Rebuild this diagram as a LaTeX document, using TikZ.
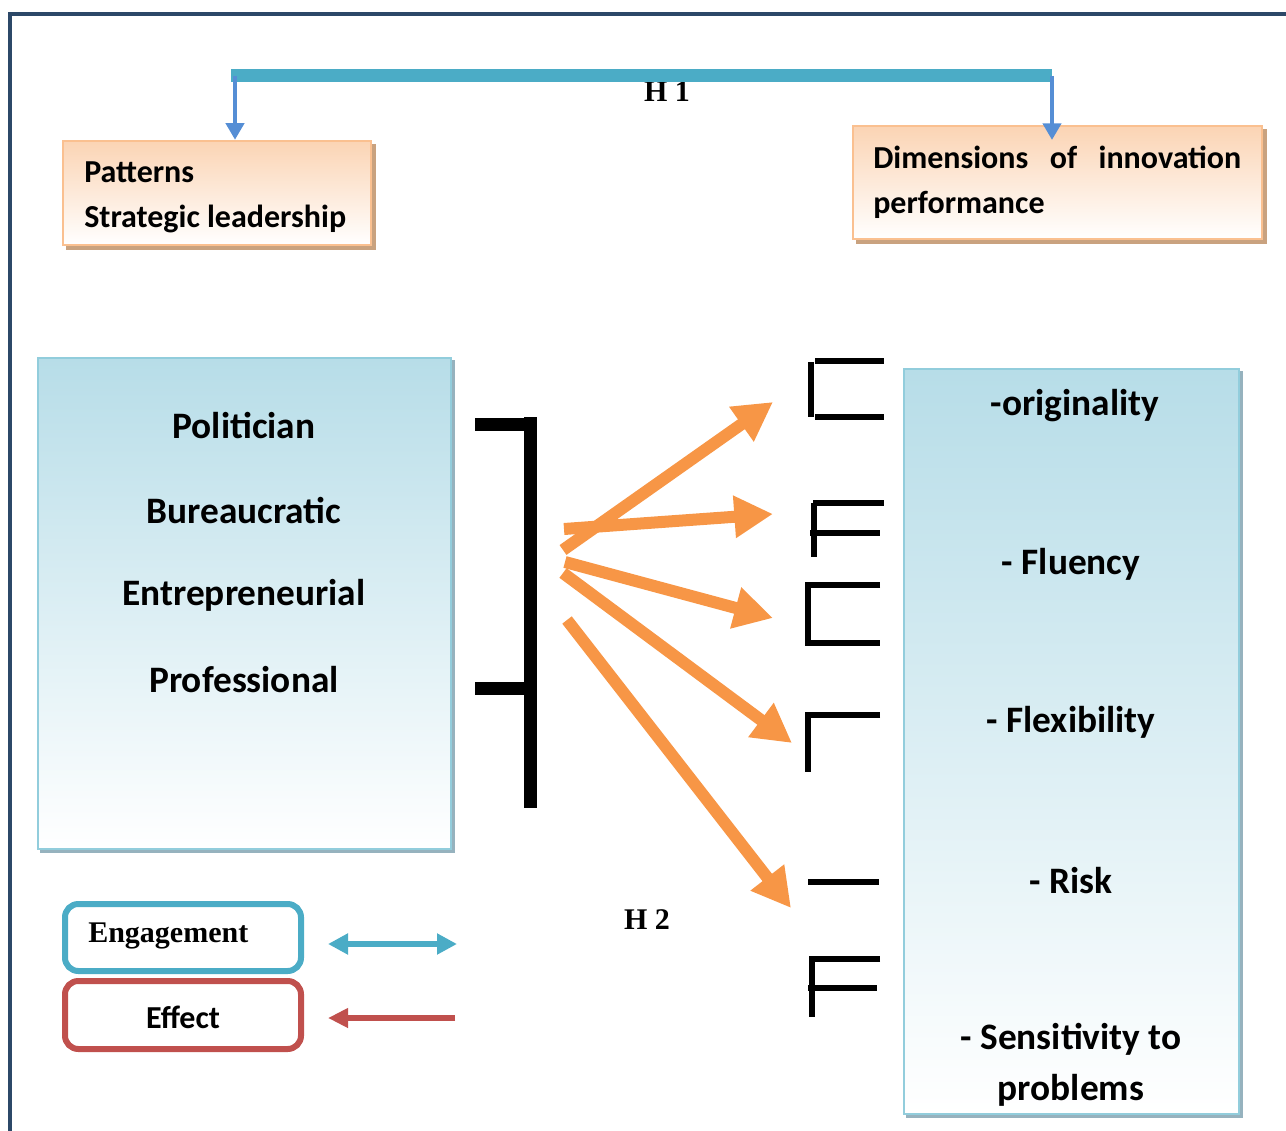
\documentclass[tikz,border=0pt]{standalone}
\usepackage{fontspec}
\setmainfont{Carlito}
\newfontfamily\timesfont{Liberation Serif}
\usetikzlibrary{arrows.meta}

\definecolor{framenavy}{RGB}{44,72,104}
\definecolor{barteal}{RGB}{75,172,198}
\definecolor{arrowblue}{RGB}{85,142,213}
\definecolor{peachline}{RGB}{250,192,144}
\definecolor{peachfill}{RGB}{251,212,180}
\definecolor{peachshadow}{RGB}{201,162,127}
\definecolor{iceline}{RGB}{146,205,220}
\definecolor{icefill}{RGB}{183,221,232}
\definecolor{iceshadow}{RGB}{150,178,190}
\definecolor{hyporange}{RGB}{247,150,70}
\definecolor{effectred}{RGB}{192,80,77}

\tikzset{
  peachbox/.style={draw=peachline,line width=1.8pt,top color=peachfill,bottom color=white,inner sep=0pt},
  icebox/.style={draw=iceline,line width=1.8pt,top color=icefill,bottom color=white,inner sep=0pt},
  keybox/.style={draw=#1,line width=4.5pt,rounded corners=10pt,fill=white,inner sep=0pt,minimum width=177pt},
  smalltxt/.style={inner sep=0pt,font=\bfseries\fontsize{24}{33.75}\selectfont},
  bigtxt/.style={inner sep=0pt,font=\bfseries\fontsize{28}{38.25}\selectfont},
  seriftxt/.style={inner sep=0pt,font=\timesfont\bfseries\fontsize{22.5}{26}\selectfont},
  hypo/.style={draw=hyporange,line width=9pt,-{Triangle[length=29pt,width=30pt]}},
  bluearrow/.style={draw=arrowblue,line width=3.4pt,-{Triangle[length=12.5pt,width=13.5pt]}},
  glyph/.style={line width=5pt}
}

\begin{document}
\begin{tikzpicture}[x=0.75pt,y=0.75pt,yscale=-1,xscale=1]
\useasboundingbox (0,0) rectangle (1286,1131);
\draw[framenavy,line width=3pt] (10,1131) -- (10,14) -- (1286,14);

% top boxes and H1
\fill[peachshadow] (66,144) rectangle (376,250);
\fill[peachshadow] (856,129) rectangle (1267,244);
\node[peachbox,minimum width=231pt,minimum height=78pt] (lead) at (217,193) {};
\node[peachbox,minimum width=306.5pt,minimum height=84.5pt] (dims) at (1057.5,182.5) {};
\node[smalltxt,anchor=west,align=left] (leadtxt) at (84,197) {Patterns\\Strategic leadership};
\node[smalltxt,anchor=west,text width=276pt,align=justify] (dimstxt) at (873,182) {Dimensions of innovation performance};
\node[seriftxt] (hone) at (667,92) {H 1};
\coordinate (barL) at (231,76);
\coordinate (barR) at (1052,76);
\coordinate (dimsin) at (1052,140);
\draw[barteal,line width=9.75pt] (barL) -- (barR);
\draw[bluearrow] ([xshift=3pt]barL) -- ([xshift=3pt]barL |- lead.north);
\draw[bluearrow] (barR) -- (dimsin);

% big boxes
\fill[iceshadow] (40,360) rectangle (455,853);
\fill[iceshadow] (906,371) rectangle (1243,1118);
\node[icebox,minimum width=309.5pt,minimum height=368pt] (styles) at (244.5,603.5) {};
\node[icebox,minimum width=251pt,minimum height=558.5pt] (perf) at (1071.5,741.5) {};
\node[bigtxt] (pol) at (244,426) {Politician};
\node[bigtxt] (bur) at (244,511) {Bureaucratic};
\node[bigtxt] (ent) at (244,595) {Entrepreneurial};
\node[bigtxt] (pro) at (244,680) {Professional};
\node[bigtxt] (orig) at (1075,406) {-originality};
\node[bigtxt] (flu) at (1071,564) {- Fluency};
\node[bigtxt] (flex) at (1071,722) {- Flexibility};
\node[bigtxt] (risk) at (1071,881) {- Risk};
\node[bigtxt,align=center] (sens) at (1071,1064.5) {- Sensitivity to\\problems};

% bracket
\draw[line width=9.75pt] (530.5,417) -- (530.5,808);
\draw[line width=9.75pt] (475,424.5) -- (536,424.5);
\draw[line width=9.75pt] (475,688.5) -- (526,688.5);

% H2 arrows
\coordinate (s1) at (563,550); \coordinate (t1) at (773,402);
\coordinate (s2) at (564,529); \coordinate (t2) at (773,514);
\coordinate (s3) at (565,562); \coordinate (t3) at (773,618);
\coordinate (s4) at (563,573); \coordinate (t4) at (792,743);
\coordinate (s5) at (567,620); \coordinate (t5) at (791,908);
\draw[hypo] (s1) -- (t1);
\draw[hypo] (s2) -- (t2);
\draw[hypo] (s3) -- (t3);
\draw[hypo] (s4) -- (t4);
\draw[hypo] (s5) -- (t5);
\node[seriftxt] (htwo) at (647,920) {H 2};

% broken marks
\draw[glyph] (811,362) -- (811,417);
\draw[glyph] (815,361) -- (884,361);
\draw[glyph] (815,417) -- (884,417);
\draw[glyph] (813,503) -- (884,503);
\draw[glyph] (810,533) -- (880,533);
\draw[glyph] (814,503) -- (814,557);
\draw[glyph] (880,585) -- (808,585) -- (808,643) -- (880,643);
\draw[glyph] (880,715) -- (808,715) -- (808,772);
\draw[glyph] (808,882) -- (879,882);
\draw[glyph] (880,959) -- (812,959) -- (812,1017);
\draw[glyph] (808,988) -- (877,988);

% legend
\node[keybox=barteal,minimum height=50.25pt] (eng) at (183,937.5) {};
\node[keybox=effectred,minimum height=51pt] (eff) at (183,1015) {};
\node[seriftxt,anchor=west] (engtxt) at (88,936) {Engagement};
\node[smalltxt] (efftxt) at (183,1017) {Effect};
\coordinate (engL) at (328,944);
\coordinate (engR) at (457,944);
\coordinate (effL) at (328,1018);
\coordinate (effR) at (455,1018);
\draw[barteal,line width=4.5pt,{Triangle[length=15pt,width=15pt]}-{Triangle[length=15pt,width=15pt]}] (engL) -- (engR);
\draw[effectred,line width=5pt,-{Triangle[length=15pt,width=14pt]}] (effR) -- (effL);
\end{tikzpicture}
\end{document}
